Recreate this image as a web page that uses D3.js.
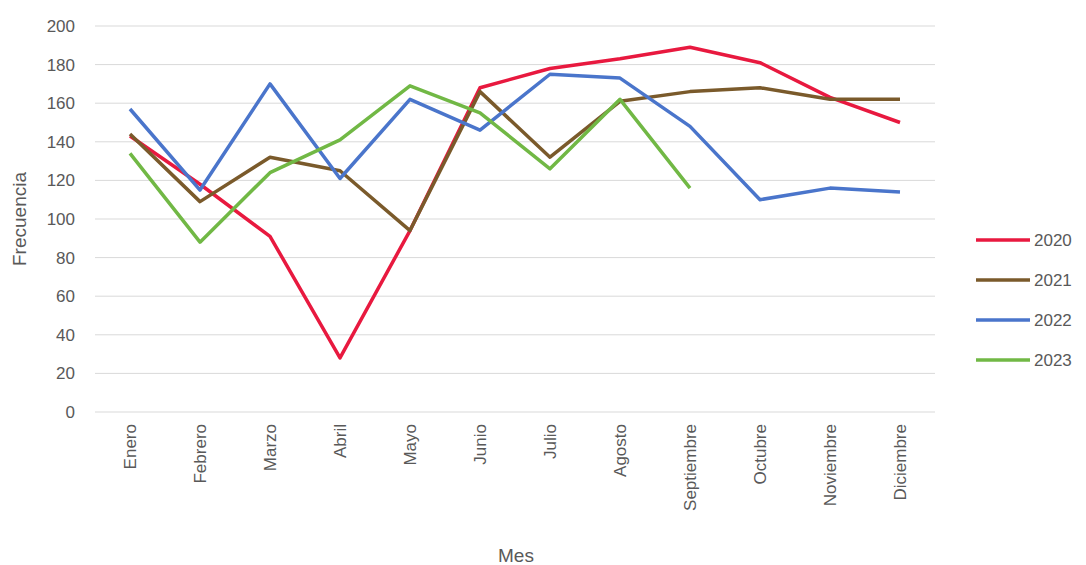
<!DOCTYPE html>
<html>
<head>
<meta charset="utf-8">
<script src="https://d3js.org/d3.v7.min.js"></script>
<style>
  body { margin: 0; background: #fff; }
  text { font-family: "Liberation Sans", Arial, sans-serif; fill: #595959; }
</style>
</head>
<body>
<div id="chart"></div>
<script>
var months = ["Enero", "Febrero", "Marzo", "Abril", "Mayo", "Junio", "Julio", "Agosto", "Septiembre", "Octubre", "Noviembre", "Diciembre"];
var years = ["2020", "2021", "2022", "2023"];
var colors = ["#E8193F", "#7A5A2B", "#4A75CB", "#71B845"];
var v2020 = [143, 118, 91, 28, 94, 168, 178, 183, 189, 181, 163, 150];
var v2021 = [144, 109, 132, 125, 94, 166, 132, 161, 166, 168, 162, 162];
var v2022 = [157, 115, 170, 121, 162, 146, 175, 173, 148, 110, 116, 114];
var v2023 = [134, 88, 124, 141, 169, 155, 126, 162, 116];
var yTicks = [0, 20, 40, 60, 80, 100, 120, 140, 160, 180, 200];
var series = [v2020, v2021, v2022, v2023];

var svg = d3.select("#chart").append("svg").attr("width", 1086).attr("height", 565);

// plot area
var plotLeft = 95, plotRight = 935, plotTop = 26, plotBottom = 412;

var x = d3.scalePoint().domain(months).range([130, 900]);
var y = d3.scaleLinear().domain([0, 200]).range([plotBottom, plotTop]);

// gridlines
svg.append("g").selectAll("line").data(yTicks).enter().append("line")
    .attr("x1", plotLeft).attr("x2", plotRight)
    .attr("y1", function (d) { return y(d); }).attr("y2", function (d) { return y(d); })
    .attr("stroke", "#d9d9d9").attr("stroke-width", 1);

// y labels
svg.append("g").selectAll("text").data(yTicks).enter().append("text")
    .attr("x", 75).attr("y", function (d) { return y(d) + 6; })
    .attr("text-anchor", "end").attr("font-size", 17)
    .text(function (d) { return d; });

// x labels (rotated)
svg.append("g").selectAll("text").data(months).enter().append("text")
    .attr("transform", function (d) { return "translate(" + (x(d) + 6) + "," + (plotBottom + 12) + ") rotate(-90)"; })
    .attr("text-anchor", "end").attr("font-size", 17)
    .text(function (d) { return d; });

// axis titles
svg.append("text").attr("x", 516).attr("y", 562).attr("text-anchor", "middle")
    .attr("font-size", 19).text("Mes");
svg.append("text").attr("transform", "translate(26,219) rotate(-90)")
    .attr("text-anchor", "middle").attr("font-size", 19).text("Frecuencia");

// lines
var line = d3.line()
    .x(function (d, i) { return x(months[i]); })
    .y(function (d) { return y(d); });

series.forEach(function (s, i) {
    svg.append("path").datum(s)
        .attr("d", line)
        .attr("fill", "none")
        .attr("stroke", colors[i])
        .attr("stroke-width", 3.5)
        .attr("stroke-linejoin", "round");
});

// legend
var legend = svg.append("g").selectAll("g").data(years).enter().append("g")
    .attr("transform", function (d, i) { return "translate(976," + (240 + i * 40) + ")"; });
legend.append("line").attr("x1", 0).attr("x2", 54).attr("y1", 0).attr("y2", 0)
    .attr("stroke", function (d, i) { return colors[i]; }).attr("stroke-width", 3.5);
legend.append("text").attr("x", 58).attr("y", 6).attr("font-size", 17)
    .text(function (d) { return d; });
</script>
</body>
</html>
